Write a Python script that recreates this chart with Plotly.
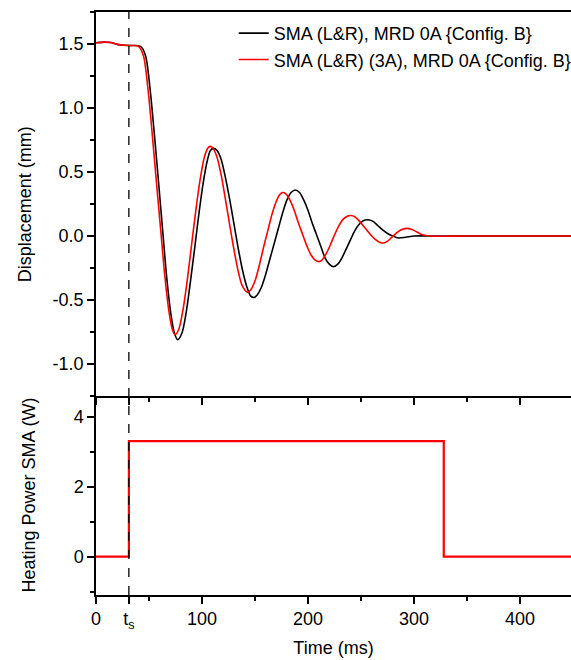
import plotly.graph_objects as go
from plotly.subplots import make_subplots

# Displacement series (time in ms, displacement in mm)
t_black = [0, 8, 14, 20, 26, 35, 40, 43, 47, 51, 55, 59, 63, 67, 71, 74, 77, 81, 85, 89, 93, 97,
           101, 105, 108, 111, 114, 118, 122, 126, 130, 134, 138, 142, 146, 149, 152, 156, 160,
           164, 168, 172, 176, 180, 184, 188, 192, 196, 200, 204, 208, 212, 216, 220, 224, 228,
           232, 236, 240, 244, 248, 252, 258, 262, 266, 270, 275, 280, 285, 292, 300, 320, 350,
           400, 450]
d_black = [1.51, 1.515, 1.512, 1.497, 1.49, 1.488, 1.486, 1.475, 1.40, 1.15, 0.80, 0.42, 0.03,
           -0.35, -0.63, -0.76, -0.81, -0.76, -0.60, -0.36, -0.10, 0.17, 0.41, 0.59, 0.67, 0.685,
           0.67, 0.60, 0.46, 0.29, 0.10, -0.09, -0.26, -0.39, -0.47, -0.48, -0.46, -0.40, -0.30,
           -0.18, -0.06, 0.06, 0.18, 0.28, 0.34, 0.36, 0.34, 0.28, 0.20, 0.10, 0.01, -0.08, -0.17,
           -0.22, -0.24, -0.22, -0.17, -0.10, -0.03, 0.04, 0.09, 0.12, 0.125, 0.11, 0.08, 0.05,
           0.02, 0.0, -0.015, -0.01, 0.0, 0.0, 0.0, 0.0, 0.0]

t_red = [0, 8, 14, 20, 26, 35, 39, 41, 45, 49, 53, 57, 61, 65, 69, 72, 74.5, 78, 82, 86, 90, 94,
         98, 102, 105, 107.5, 110, 114, 118, 122, 126, 130, 134, 138, 143, 146, 150, 154, 158,
         162, 166, 170, 173, 176, 179, 183, 187, 191, 195, 199, 203, 207, 210, 213, 217, 221,
         225, 229, 233, 237, 240.5, 244, 248, 252, 256, 260, 264, 268, 271, 275, 279, 283, 287,
         293, 298, 303, 308, 315, 350, 400, 450]
d_red = [1.51, 1.515, 1.512, 1.497, 1.49, 1.488, 1.486, 1.475, 1.40, 1.15, 0.80, 0.42, 0.05,
         -0.32, -0.60, -0.73, -0.77, -0.73, -0.58, -0.35, -0.08, 0.19, 0.43, 0.61, 0.68, 0.70,
         0.69, 0.62, 0.48, 0.29, 0.09, -0.10, -0.27, -0.39, -0.44, -0.42, -0.35, -0.23, -0.09,
         0.04, 0.17, 0.27, 0.32, 0.34, 0.33, 0.28, 0.20, 0.10, 0.01, -0.08, -0.15, -0.19, -0.20,
         -0.19, -0.14, -0.07, 0.01, 0.08, 0.13, 0.155, 0.16, 0.15, 0.12, 0.08, 0.04, 0.0, -0.03,
         -0.05, -0.055, -0.04, -0.01, 0.02, 0.045, 0.06, 0.05, 0.03, 0.01, 0.0, 0.0, 0.0, 0.0]

# Heating power (W)
t_power = [0, 31, 31, 328, 328, 450]
p_power = [0, 0, 3.31, 3.31, 0, 0]

t_s = 31
x_tickvals = [0, t_s, 100, 200, 300, 400]
x_ticktext = ["0", "t<sub>s</sub>", "100", "200", "300", "400"]
names = ["SMA (L&R), MRD 0A {Config. B}", "SMA (L&R) (3A), MRD 0A {Config. B}"]

FONT = "Arial, Liberation Sans, sans-serif"
ROW_SPLIT = 0.3413

fig = make_subplots(rows=2, cols=1, shared_xaxes=True, vertical_spacing=0,
                    row_heights=[1 - ROW_SPLIT, ROW_SPLIT])

fig.add_trace(go.Scatter(x=t_black, y=d_black, mode="lines", name=names[0],
                         line=dict(color="black", width=1.6, shape="spline", smoothing=0.8)),
              row=1, col=1)
fig.add_trace(go.Scatter(x=t_red, y=d_red, mode="lines", name=names[1],
                         line=dict(color="red", width=1.6, shape="spline", smoothing=0.8)),
              row=1, col=1)
fig.add_trace(go.Scatter(x=t_power, y=p_power, mode="lines", showlegend=False,
                         line=dict(color="red", width=2.2)), row=2, col=1)

axis_common = dict(showline=True, linecolor="black", linewidth=1.5, ticks="outside",
                   tickcolor="black", tickwidth=1.5, ticklen=7, showgrid=False, zeroline=False,
                   tickfont=dict(family=FONT, size=18, color="black"))

fig.update_xaxes(range=[0, 448], tickmode="array", tickvals=x_tickvals, ticktext=x_ticktext,
                 minor=dict(tickmode="linear", tick0=0, dtick=50, ticklen=4, tickcolor="black",
                            tickwidth=1.5, ticks="outside"),
                 **axis_common)
fig.update_xaxes(showticklabels=False, mirror=True, row=1, col=1)
fig.update_xaxes(title=dict(text="Time (ms)", font=dict(family=FONT, size=18, color="black"),
                            standoff=10), row=2, col=1)

fig.update_yaxes(range=[-1.25, 1.75], tickvals=[-1.0, -0.5, 0.0, 0.5, 1.0, 1.5],
                 ticktext=["-1.0", "-0.5", "0.0", "0.5", "1.0", "1.5"],
                 minor=dict(tickmode="linear", tick0=0, dtick=0.25, ticklen=4, tickcolor="black",
                            tickwidth=1.5, ticks="outside"),
                 row=1, col=1, **axis_common)
fig.update_yaxes(range=[-1.1, 4.6], tickvals=[0, 2, 4],
                 minor=dict(tickmode="linear", tick0=0, dtick=1, ticklen=4, tickcolor="black",
                            tickwidth=1.5, ticks="outside"),
                 row=2, col=1, **axis_common)

fig.add_shape(type="line", xref="x", yref="paper", x0=t_s, x1=t_s, y0=0, y1=1,
              line=dict(color="black", width=1.3, dash="dash"))

# y-axis titles as rotated annotations
fig.add_annotation(text="Displacement (mm)", xref="paper", yref="paper",
                   x=-0.149, y=(1 + ROW_SPLIT) / 2, xanchor="center", yanchor="middle",
                   textangle=-90, showarrow=False,
                   font=dict(family=FONT, size=18, color="black"))
fig.add_annotation(text="Heating Power SMA (W)", xref="paper", yref="paper",
                   x=-0.143, y=ROW_SPLIT / 2, xanchor="center", yanchor="middle",
                   textangle=-90, showarrow=False,
                   font=dict(family=FONT, size=18, color="black"))

fig.update_layout(
    width=571, height=660,
    margin=dict(l=96, r=0, t=12, b=65, autoexpand=False),
    paper_bgcolor="white", plot_bgcolor="white",
    font=dict(family=FONT, size=18, color="black"),
    legend=dict(x=1.012, xanchor="right", y=0.995, yanchor="top", bgcolor="rgba(0,0,0,0)",
                font=dict(family=FONT, size=18, color="black"), tracegroupgap=0,
                itemwidth=30),
)

fig.write_html("out.html")
